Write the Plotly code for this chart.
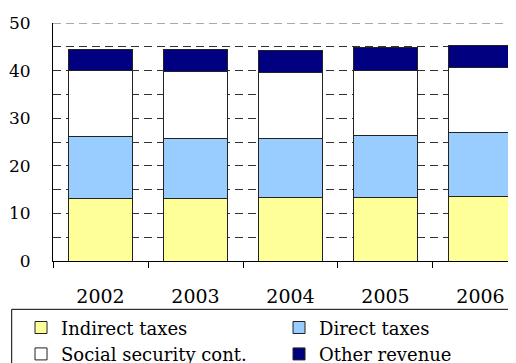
import plotly.graph_objects as go

years = ["2002", "2003", "2004", "2005", "2006"]
indirect_taxes = [13.1, 13.1, 13.3, 13.3, 13.5]
direct_taxes = [13.1, 12.7, 12.5, 13.0, 13.4]
social_security = [13.8, 14.1, 13.9, 13.8, 13.8]
other_revenue = [4.5, 4.6, 4.6, 4.7, 4.6]

series = [
    ("Indirect taxes", indirect_taxes, "#FFFF99"),
    ("Direct taxes", direct_taxes, "#99CCFF"),
    ("Social security cont.", social_security, "#FFFFFF"),
    ("Other revenue", other_revenue, "#000080"),
]

serif = "DejaVu Serif"
grid = dict(gridcolor="#333333", gridwidth=1, griddash="8px,5px")

fig = go.Figure()
for name, values, color in series:
    fig.add_trace(go.Bar(
        x=years, y=values, name=name,
        marker=dict(color=color, line=dict(color="#222222", width=1)),
        hoverinfo="x+y+name"
    ))

# top gridline at 50 (plotly skips the one on the plot edge)
fig.add_shape(type="line", xref="paper", x0=0, x1=1, yref="y", y0=50, y1=50,
              line=dict(color="#555555", width=1, dash="8px,5px"))
# legend frame, runs off the right and bottom of the page like the original
fig.add_shape(type="rect", xref="paper", x0=-0.0877, x1=1.1, yref="paper", y0=-0.203, y1=-0.6,
              line=dict(color="black", width=1), fillcolor="rgba(0,0,0,0)")

# page body has an 8px margin, so left/top are shifted back by 8px
fig.update_layout(
    width=516, height=363,
    barmode="stack",
    bargap=0.33,
    margin=dict(l=45, r=0, t=15, b=110, autoexpand=False),
    plot_bgcolor="white",
    paper_bgcolor="white",
    font=dict(family=serif, size=18, color="black"),
    showlegend=True,
    legend=dict(
        orientation="h",
        x=-0.0679, xanchor="left",
        y=-0.203, yanchor="top",
        traceorder="normal",
        entrywidth=213,
        borderwidth=0,
        bgcolor="rgba(0,0,0,0)",
        font=dict(family=serif, size=18, color="black"),
    ),
    xaxis=dict(
        type="category",
        range=[-0.5, 4.458],
        automargin=False,
        showline=True, linecolor="black", linewidth=1,
        ticks="outside", tickson="boundaries", ticklen=6, tickcolor="black",
        ticklabelstandoff=18,
        tickfont=dict(family=serif, size=19),
        showgrid=False,
    ),
    yaxis=dict(
        range=[0, 50],
        dtick=10,
        automargin=False,
        showline=True, linecolor="black", linewidth=1,
        ticks="", ticklabelstandoff=18,
        tickfont=dict(family=serif, size=17),
        showgrid=True, **grid,
        minor=dict(dtick=5, showgrid=True, **grid),
        zeroline=False,
    ),
)

fig.write_html("out.html")
